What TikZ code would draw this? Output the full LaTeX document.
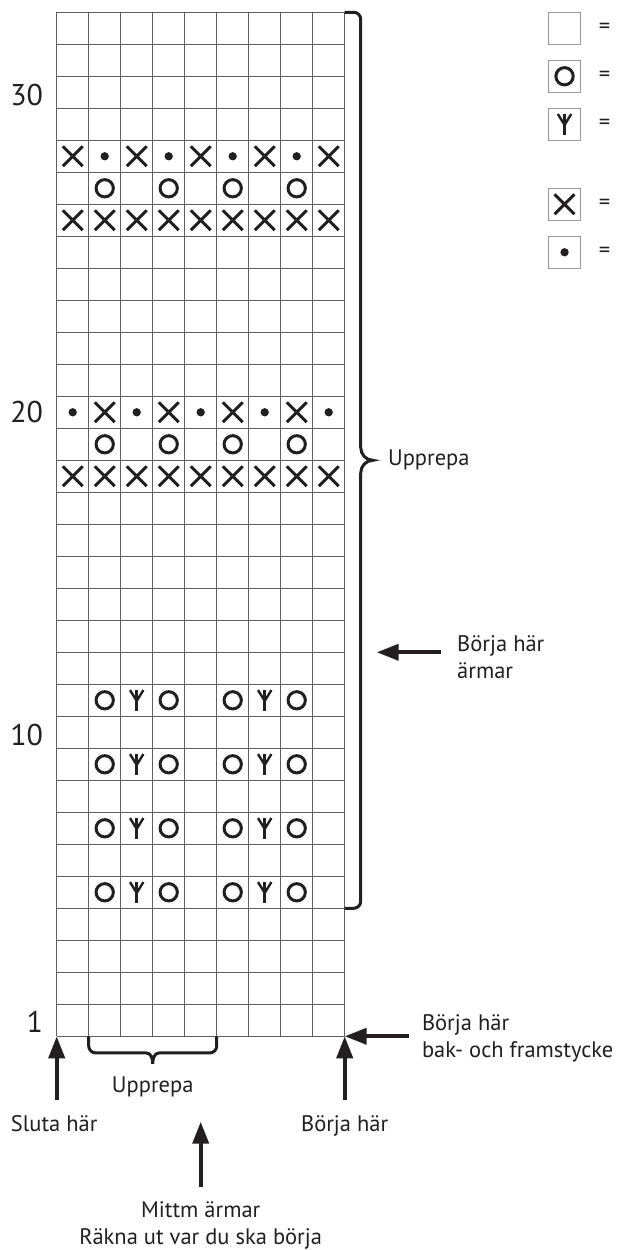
\documentclass[tikz,border=0pt]{standalone}
\usepackage{fontspec}
\setmainfont{PT Sans}
\usepackage{tikz}
\usetikzlibrary{positioning,arrows.meta}
\definecolor{ink}{RGB}{35,31,32}
\definecolor{gridgray}{RGB}{95,95,95}
\definecolor{boxgray}{RGB}{150,150,150}

\begin{document}
\begin{tikzpicture}[
    x=32pt, y=32pt,
    gridline/.style={draw=gridgray, line width=0.8pt},
    symline/.style={draw=ink, line width=3pt},
    lbl/.style={font=\fontsize{22.5}{27}\selectfont, text=ink, inner sep=0pt},
    rowno/.style={font=\fontsize{30}{30}\selectfont, text=ink, inner sep=0pt, anchor=east},
    legbox/.style={draw=boxgray, line width=0.8pt, minimum size=32pt, inner sep=0pt, outer sep=0pt},
    brace/.style={draw=ink, line width=3pt},
    bigarrow/.style={-{Triangle[length=22pt,width=16pt]}, draw=ink, line width=4pt},
    crossst/.pic={\draw[symline] (-0.31,-0.31) -- (0.31,0.31) (-0.31,0.31) -- (0.31,-0.31);},
    ringst/.pic={\draw[symline] (0,0) circle (0.27);},
    dotst/.pic={\fill[ink] (0,0) circle (0.13);},
    psist/.pic={\draw[symline] (0,-0.32) -- (0,0.32); \draw[symline, line width=2.4pt] (-0.21,0.32) -- (0,-0.02) -- (0.21,0.32);}
]

% page size and white background
\path[use as bounding box, fill=white] (-1.772,-6.678) rectangle (17.572,32.384);

% chart grid, 9 stitches x 32 rows
\foreach \c in {0,...,9} \draw[gridline] (\c,0) -- (\c,32);
\foreach \r in {0,...,32} \draw[gridline] (0,\r) -- (9,\r);
\coordinate (gridSW) at (0,0);
\coordinate (gridSE) at (9,0);

% row numbers
\node[rowno] (row30) at (-0.42,29.4) {30};
\node[rowno] (row20) at (-0.42,19.5) {20};
\node[rowno] (row10) at (-0.42,9.42) {10};
\node[rowno] (row1) at (-0.42,0.45) {1};

% upper band, rows 26-28
\foreach \c in {1,...,9} \pic at (\c-0.5,25.5) {crossst};
\foreach \c in {2,4,6,8} \pic at (\c-0.5,26.5) {ringst};
\foreach \c in {1,3,5,7,9} \pic at (\c-0.5,27.5) {crossst};
\foreach \c in {2,4,6,8} \pic at (\c-0.5,27.5) {dotst};

% lower band, rows 18-20
\foreach \c in {1,...,9} \pic at (\c-0.5,17.5) {crossst};
\foreach \c in {2,4,6,8} \pic at (\c-0.5,18.5) {ringst};
\foreach \c in {1,3,5,7,9} \pic at (\c-0.5,19.5) {dotst};
\foreach \c in {2,4,6,8} \pic at (\c-0.5,19.5) {crossst};

% eyelet rows 5, 7, 9, 11
\foreach \r in {5,7,9,11} {
  \foreach \c in {2,4,6,8} \pic at (\c-0.5,\r-0.5) {ringst};
  \foreach \c in {3,7} \pic at (\c-0.5,\r-0.5) {psist};
}

% repeat bracket on the right
\draw[brace] (9,32) -- (9.28,32) to[out=0,in=90] (9.5,31.78) -- (9.5,18.4)
  to[out=-90,in=180] (9.88,18) to[out=180,in=90] (9.5,17.6) -- (9.5,4.22)
  to[out=-90,in=0] (9.28,4) -- (9,4);
\node[lbl, anchor=base west] (repeatSide) at (10.35,17.85) {Upprepa};

% repeat bracket below
\draw[brace] (1,0) -- (1,-0.3) to[out=-90,in=180] (1.22,-0.52) -- (2.8,-0.52)
  to[out=0,in=90] (3,-0.86) to[out=90,in=180] (3.2,-0.52) -- (4.78,-0.52)
  to[out=0,in=-90] (5,-0.3) -- (5,0);
\node[lbl, anchor=base] (repeatBottom) at (3,-1.76) {Upprepa};

% sleeve start
\coordinate (sleeveTip) at (10,12);
\coordinate (sleeveTail) at (12,12);
\node[lbl, anchor=north west, align=left] (sleeveStart) at (12.51,12.52) {Börja här\\ärmar};
\draw[bigarrow] (sleeveTail) -- (sleeveTip);

% back and front start
\coordinate (bodyTail) at (11,0);
\node[lbl, anchor=north west, align=left] (bodyStart) at (11.41,0.70) {Börja här\\bak- och framstycke};
\draw[bigarrow] (bodyTail) -- (gridSE);

% start and end arrows
\coordinate (slutaTail) at (0,-2);
\coordinate (startTail) at (9,-2);
\node[lbl, anchor=base] (sluta) at (-0.08,-2.98) {Sluta här};
\node[lbl, anchor=base] (startHere) at (9,-2.98) {Börja här};
\draw[bigarrow] (slutaTail) -- (gridSW);
\draw[bigarrow] (startTail) -- (gridSE);

% sleeve centre
\coordinate (midTip) at (4.5,-2.67);
\coordinate (midTail) at (4.5,-4.7);
\node[lbl, anchor=north, align=center] (midSleeve) at (4.5,-5.17) {Mittm ärmar\\Räkna ut var du ska börja};
\draw[bigarrow] (midTail) -- (midTip);

% key
\node[legbox] (keyPlain) at (15.87,31.5) {};
\node[legbox] (keyRing) at (15.87,30) {};
\node[legbox] (keyPsi) at (15.87,28.5) {};
\node[legbox] (keyCross) at (15.87,26) {};
\node[legbox] (keyDot) at (15.87,24.5) {};
\pic at (keyRing) {ringst};
\pic at (keyPsi) {psist};
\pic at (keyCross) {crossst};
\pic at (keyDot) {dotst};
\node[lbl, right=18pt of keyPlain] (eqPlain) {=};
\node[lbl, right=18pt of keyRing] (eqRing) {=};
\node[lbl, right=18pt of keyPsi] (eqPsi) {=};
\node[lbl, right=18pt of keyCross] (eqCross) {=};
\node[lbl, right=18pt of keyDot] (eqDot) {=};

\end{tikzpicture}
\end{document}
